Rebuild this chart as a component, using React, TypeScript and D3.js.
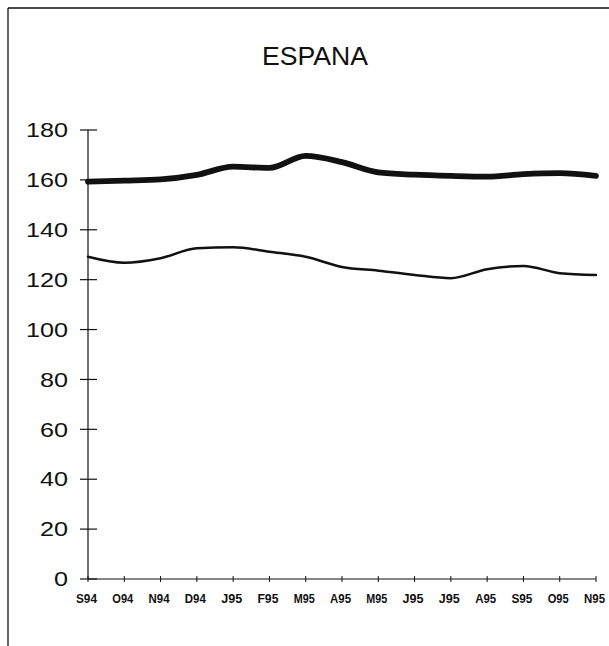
import * as d3 from "d3";

const months = ["S94", "O94", "N94", "D94", "J95", "F95", "M95", "A95", "M95", "J95", "J95", "A95", "S95", "O95", "N95"];
const upperSeries = [159.3, 159.7, 160.2, 162.0, 165.3, 164.8, 169.6, 167.1, 163.0, 162.1, 161.6, 161.3, 162.3, 162.7, 161.6];
const lowerSeries = [129.2, 126.8, 128.6, 132.6, 133.0, 131.2, 129.2, 125.1, 123.6, 121.9, 120.6, 124.2, 125.5, 122.6, 121.9];
const yTicks = [0, 20, 40, 60, 80, 100, 120, 140, 160, 180];

const W = 609;
const H = 646;

export default function App() {
  const x = d3.scalePoint<number>().domain(d3.range(months.length)).range([88, 596]);
  const y = d3.scaleLinear().domain([0, 180]).range([579, 130]);

  const line = d3
    .line<number>()
    .x((_, i) => x(i)!)
    .y((d) => y(d))
    .curve(d3.curveMonotoneX);

  return (
    <svg
      width={W}
      height={H}
      viewBox={`0 0 ${W} ${H}`}
      style={{ position: "absolute", left: 0, top: 0, background: "#fff" }}
      fontFamily="Liberation Sans, Arial, sans-serif"
    >
      <rect width={W} height={H} fill="#fff" />
      {/* frame, only top and left edges show */}
      <line x1={8} y1={8} x2={W} y2={8} stroke="#111" strokeWidth={1.3} />
      <line x1={8} y1={8} x2={8} y2={H} stroke="#111" strokeWidth={1.3} />

      <text x={315} y={65} textAnchor="middle" fontSize={26} fill="#111" textLength={106} lengthAdjust="spacingAndGlyphs">
        ESPANA
      </text>

      {/* y axis */}
      <line x1={88} y1={y(0)} x2={88} y2={y(180)} stroke="#111" strokeWidth={1.2} />
      {yTicks.map((t) => {
        const s = String(t);
        return (
          <g key={t}>
            <line x1={80} x2={97} y1={y(t)} y2={y(t)} stroke="#111" strokeWidth={1.2} />
            <text
              x={68}
              y={y(t)}
              dy="0.36em"
              textAnchor="end"
              fontSize={20}
              fill="#111"
              textLength={s.length * 14}
              lengthAdjust="spacingAndGlyphs"
            >
              {s}
            </text>
          </g>
        );
      })}

      {/* x axis */}
      <line x1={88} x2={596} y1={y(0)} y2={y(0)} stroke="#111" strokeWidth={1.2} />
      {months.map((m, i) => (
        <g key={i}>
          <line x1={x(i)} x2={x(i)} y1={y(0) - 3} y2={y(0) + 3} stroke="#111" strokeWidth={1} />
          <text
            x={x(i)! - 1.5}
            y={603}
            textAnchor="middle"
            fontSize={12}
            fontWeight="bold"
            fill="#111"
            textLength={21}
            lengthAdjust="spacingAndGlyphs"
          >
            {m}
          </text>
        </g>
      ))}

      <path d={line(upperSeries) ?? undefined} fill="none" stroke="#111" strokeWidth={5.8} strokeLinecap="round" />
      <path d={line(lowerSeries) ?? undefined} fill="none" stroke="#111" strokeWidth={2.5} strokeLinecap="round" />
    </svg>
  );
}
